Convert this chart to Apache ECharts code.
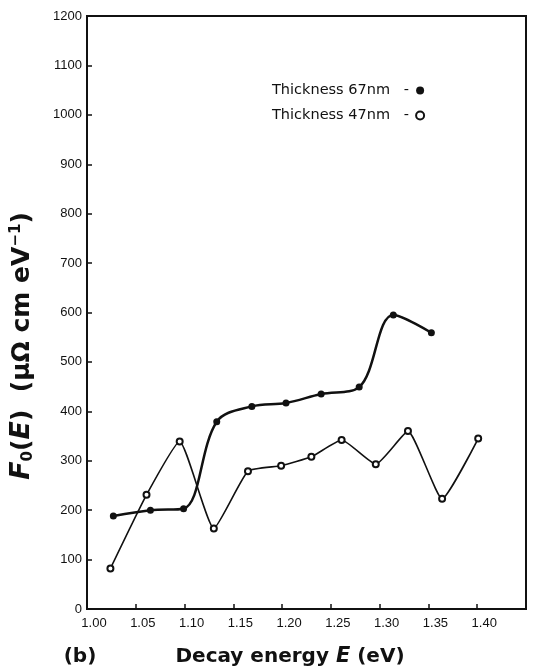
<!DOCTYPE html>
<html>
<head>
<meta charset="utf-8">
<script src="https://cdn.jsdelivr.net/npm/echarts@6/dist/echarts.min.js"></script>
<style>html,body{margin:0;padding:0;background:#fff}#c{width:533px;height:671px}</style>
</head>
<body>
<div id="c"></div>
<script>
// Data
var energy67 = [1.027, 1.065, 1.099, 1.133, 1.169, 1.204, 1.240, 1.279, 1.314, 1.353];
var values67 = [188, 200, 203, 379, 410, 417, 435, 449, 595, 559];
var energy47 = [1.024, 1.061, 1.095, 1.130, 1.165, 1.199, 1.230, 1.261, 1.296, 1.329, 1.364, 1.401];
var values47 = [82, 231, 339, 163, 279, 290, 308, 342, 293, 360, 223, 345];
var seriesNames = ['Thickness 67nm', 'Thickness 47nm'];

function pairs(xs, ys) { return xs.map(function (x, i) { return [x, ys[i]]; }); }

var chart = echarts.init(document.getElementById('c'), null, { renderer: 'canvas' });
var ink = '#111';
chart.setOption({
  backgroundColor: '#fff',
  animation: false,
  grid: { left: 87, right: 7, top: 16, bottom: 62, show: true, borderColor: ink, borderWidth: 2, backgroundColor: 'transparent' },
  legend: {
    orient: 'vertical', left: 267, top: 78, itemGap: 10, align: 'right',
    itemWidth: 8, itemHeight: 8,
    formatter: function (n) { return n + '   -'; },
    textStyle: { fontFamily: 'DejaVu Sans', fontSize: 14.5, color: ink, padding: [0, 2, 0, 0] },
    data: [
      { name: seriesNames[0], icon: 'circle', itemStyle: { color: ink, borderWidth: 0 } },
      { name: seriesNames[1], icon: 'emptyCircle', itemStyle: { color: ink, borderColor: ink, borderWidth: 1 } }
    ]
  },
  xAxis: {
    type: 'value', min: 1.0, max: 1.45, interval: 0.05,
    axisLine: { lineStyle: { color: ink, width: 2 } },
    axisTick: { inside: true, length: 5, lineStyle: { color: ink, width: 1.5 } },
    splitLine: { show: false },
    axisLabel: {
      color: ink, fontFamily: 'Liberation Sans', fontSize: 13, margin: 8, padding: [0, 0, 0, 14],
      showMaxLabel: false,
      formatter: function (v) { return v > 1.425 ? '' : v.toFixed(2); }
    }
  },
  yAxis: {
    type: 'value', min: 0, max: 1200, interval: 100,
    axisLine: { lineStyle: { color: ink, width: 2 } },
    axisTick: { inside: true, length: 5, lineStyle: { color: ink, width: 1.5 } },
    splitLine: { show: false },
    axisLabel: { color: ink, fontFamily: 'Liberation Sans', fontSize: 13, margin: 5, formatter: function (v) { return String(v); } }
  },
  graphic: [
    {
      type: 'text', x: 22, y: 346, rotation: Math.PI / 2,
      style: {
        text: '{i|F}{s|0}{n|(}{i|E}{n|)  (\u03bc\u03a9 cm eV}{p|\u22121}{n|)}',
        textAlign: 'center', textVerticalAlign: 'middle', fill: ink,
        rich: {
          i: { fontFamily: 'DejaVu Sans', fontWeight: 'bold', fontStyle: 'italic', fontSize: 27, fill: ink },
          n: { fontFamily: 'DejaVu Sans', fontWeight: 'bold', fontSize: 25, fill: ink },
          s: { fontFamily: 'DejaVu Sans', fontWeight: 'bold', fontSize: 15, fill: ink, verticalAlign: 'bottom' },
          p: { fontFamily: 'DejaVu Sans', fontWeight: 'bold', fontSize: 15, fill: ink, verticalAlign: 'top' }
        }
      }
    },
    {
      type: 'text', x: 290, y: 657,
      style: {
        text: '{n|Decay energy }{i|E}{n| (eV)}',
        textAlign: 'center', textVerticalAlign: 'middle', fill: ink,
        rich: {
          n: { fontFamily: 'DejaVu Sans', fontWeight: 'bold', fontSize: 20, fill: ink },
          i: { fontFamily: 'DejaVu Sans', fontWeight: 'bold', fontStyle: 'italic', fontSize: 21, fill: ink }
        }
      }
    },
    {
      type: 'text', x: 80, y: 657,
      style: { text: '(b)', font: 'bold 20px "DejaVu Sans"', fill: ink, textAlign: 'center', textVerticalAlign: 'middle' }
    }
  ],
  series: [
    {
      name: seriesNames[0], type: 'line', data: pairs(energy67, values67),
      smooth: 0.35, symbol: 'circle', symbolSize: 7,
      lineStyle: { color: ink, width: 2.5 },
      itemStyle: { color: ink, borderWidth: 0 }
    },
    {
      name: seriesNames[1], type: 'line', data: pairs(energy47, values47),
      smooth: 0.15, symbol: 'emptyCircle', symbolSize: 6,
      lineStyle: { color: ink, width: 1.6 },
      itemStyle: { color: ink, borderColor: ink, borderWidth: 1.2 }
    }
  ]
});
</script>
</body>
</html>
